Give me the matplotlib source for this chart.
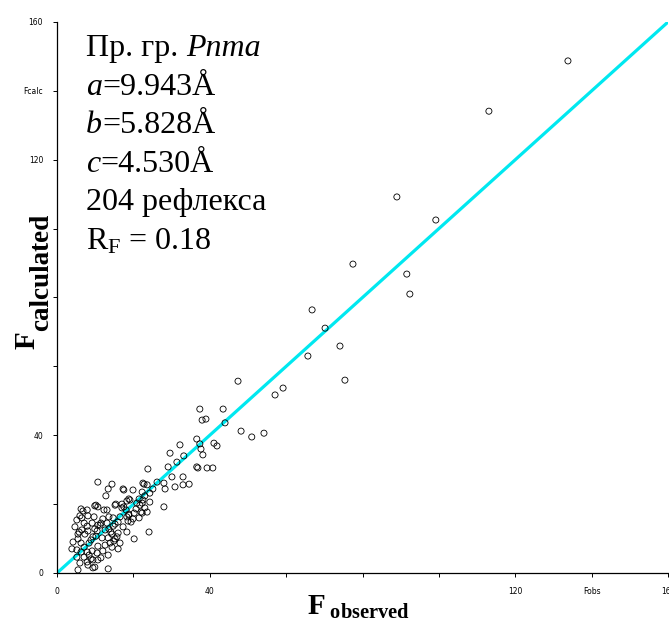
import matplotlib
matplotlib.use("Agg")
import matplotlib.pyplot as plt

plt.rcParams['mathtext.fontset'] = 'custom'
plt.rcParams['mathtext.rm'] = 'Liberation Serif'
plt.rcParams['mathtext.it'] = 'Liberation Serif:italic'
plt.rcParams['mathtext.bf'] = 'Liberation Serif:bold'

# observed / calculated structure factors
f_obs = [
    133.8, 113.1, 99.2, 89.0, 91.6, 92.4, 77.5, 66.8, 70.2, 74.1, 65.7, 75.4,
    59.2, 57.1, 47.4, 54.2, 51.0, 48.2, 43.5, 44.0, 37.4, 38.0, 39.0, 41.1,
    41.9, 36.6, 37.4, 32.2, 37.7, 38.2, 33.2, 29.6, 31.4, 36.6, 36.9, 39.3,
    40.8, 30.1, 33.0, 33.0, 34.6, 30.9, 28.0, 23.8, 29.1, 26.2, 28.0, 28.3,
    25.1, 23.6, 22.5, 22.8, 22.3, 19.9, 19.1, 21.5, 23.0, 22.0, 24.1, 18.8,
    18.3, 19.4, 18.6, 17.3, 15.2, 16.0, 13.6, 10.7, 14.4, 13.4, 12.8, 17.3,
    15.4, 18.8, 18.3, 20.2, 9.9, 10.2, 12.3, 6.8, 6.5, 7.9, 5.8, 7.3,
    5.5, 5.2, 6.3, 7.1, 9.2, 9.4, 9.4, 5.5, 13.4, 13.4, 11.8, 12.0,
    10.7, 11.5, 13.1, 14.7, 16.5, 15.7, 16.5, 16.0, 13.9, 12.6, 12.0, 10.5,
    11.5, 8.4, 7.9, 10.7, 10.2, 8.9, 9.9, 14.4, 14.9, 18.3, 17.0, 17.5,
    18.1, 18.8, 20.2, 20.7, 21.7, 22.5, 23.0, 24.3, 21.5, 19.9, 22.3,
    10.7, 15.2, 17.0, 6.3, 7.9, 13.1, 6.0, 8.1, 9.7, 13.6, 5.2, 7.1,
    9.2, 11.3, 14.7, 4.7, 6.5, 8.1, 10.5, 12.6, 14.1, 16.0, 5.5, 9.4,
    15.2, 4.2, 6.3, 8.4, 14.4, 3.9, 7.9, 13.4, 5.2, 7.1, 8.9, 10.7,
    6.0, 8.1, 9.9, 17.5, 24.3, 22.3, 23.6, 20.9,
]
f_calc = [
    148.7, 134.1, 102.5, 109.2, 86.8, 81.0, 89.7, 76.4, 71.1, 65.9, 63.0, 56.0,
    53.7, 51.7, 55.7, 40.6, 39.5, 41.2, 47.6, 43.6, 47.6, 44.4, 44.7, 37.7,
    36.9, 38.9, 37.5, 37.2, 36.0, 34.3, 34.0, 34.8, 32.2, 30.8, 30.5, 30.5,
    30.5, 27.9, 27.9, 25.6, 25.8, 25.0, 19.2, 30.2, 30.8, 26.4, 26.1, 24.4,
    24.4, 25.6, 26.1, 25.8, 23.5, 24.1, 21.2, 21.5, 18.9, 17.7, 11.9, 21.5,
    20.9, 14.8, 15.1, 13.4, 14.2, 14.8, 12.8, 26.4, 25.8, 24.4, 22.4, 24.4,
    20.0, 17.1, 11.9, 9.9, 19.5, 19.7, 18.3, 18.0, 16.0, 13.6, 11.9, 11.3,
    9.9, 6.7, 6.1, 7.5, 6.4, 3.8, 1.5, 0.9, 1.2, 10.2, 10.2, 15.7,
    13.9, 14.5, 14.5, 16.0, 16.3, 10.5, 8.7, 7.0, 8.7, 8.1, 6.4, 5.8,
    4.4, 5.2, 3.2, 7.8, 10.7, 9.6, 12.8, 11.3, 9.3, 16.3, 18.9, 19.2,
    18.3, 16.8, 17.4, 18.6, 19.7, 21.2, 22.4, 23.2, 16.0, 15.7, 17.4,
    19.2, 19.7, 20.0, 18.6, 18.3, 18.3, 16.6, 16.6, 16.3, 16.3, 15.4, 14.5,
    14.5, 13.9, 13.6, 13.4, 12.5, 12.2, 12.2, 12.5, 11.9, 11.6, 11.3, 10.5,
    9.9, 9.0, 8.7, 8.7, 7.5, 7.0, 6.1, 5.2, 4.6, 4.6, 4.1, 3.8,
    2.9, 2.3, 1.7, 24.1, 20.6, 20.3, 17.7, 20.3,
]

fit_x = [0, 160]
fit_y = [0, 160]

tick_pos = [0, 20, 40, 60, 80, 100, 120, 140, 160]
x_labels = ['0', '', '40', '', '', '', '120', 'Fobs', '160']
y_labels = ['0', '', '40', '', '', '', '120', 'Fcalc', '160']

# info block: each line is a list of pieces (text, style)
info_lines = [
    [('Пр. гр. ', 'normal'), ('Pnma', 'italic')],
    [('a', 'italic'), ('=9.943Å', 'normal')],
    [('b', 'italic'), ('=5.828Å', 'normal')],
    [('c', 'italic'), ('=4.530Å', 'normal')],
    [('204 рефлекса', 'normal')],
    [('R$_\\mathrm{F}$ = 0.18', 'normal')],
]
SERIF = 'Liberation Serif'

fig = plt.figure(figsize=(6.69, 6.25), dpi=100)
ax = fig.add_axes([57 / 669, 52 / 625, 611 / 669, 551 / 625])

ax.plot(fit_x, fit_y, color='#00e8f0', linewidth=2.3, zorder=1)
ax.scatter(f_obs, f_calc, s=19, facecolors='none', edgecolors='black',
           linewidths=0.6, zorder=2)

ax.set_xlim(0, 160)
ax.set_ylim(0, 160)
ax.spines['top'].set_visible(False)
ax.spines['right'].set_visible(False)
for s in ('left', 'bottom'):
    ax.spines[s].set_linewidth(0.9)

ax.set_xticks(tick_pos)
ax.set_xticklabels(x_labels)
ax.set_yticks(tick_pos)
ax.set_yticklabels(y_labels)
ax.tick_params(direction='out', length=3, width=0.7, labelsize=5.5, pad=7)

ax.set_xlabel('$\\mathbf{F}_{\\ \\mathbf{observed}}$', fontsize=21)
ax.xaxis.set_label_coords(0.493, -0.036)

# y label: big F plus a long subscript, as two rotated texts
fig.text(35 / 669, 1 - 349 / 625, 'F', fontsize=21, family=SERIF,
         weight='bold', rotation=90, rotation_mode='anchor',
         ha='left', va='baseline')
fig.text(48 / 669, 1 - 331 / 625, 'calculated', fontsize=19.5, family=SERIF,
         weight='bold', rotation=90, rotation_mode='anchor',
         ha='left', va='baseline')

fs = 23
for i, pieces in enumerate(info_lines):
    y = 1 - (56 + i * 38.6) / 625
    prev = None
    for txt, style in pieces:
        if prev is None:
            prev = fig.text(86 / 669, y, txt, fontsize=fs, family=SERIF,
                            style=style, va='baseline', ha='left')
        else:
            prev = ax.annotate(txt, xy=(1, y), xycoords=(prev, 'figure fraction'),
                               fontsize=fs, family=SERIF, style=style,
                               va='baseline', ha='left')

fig.savefig('out.png', dpi=100)
